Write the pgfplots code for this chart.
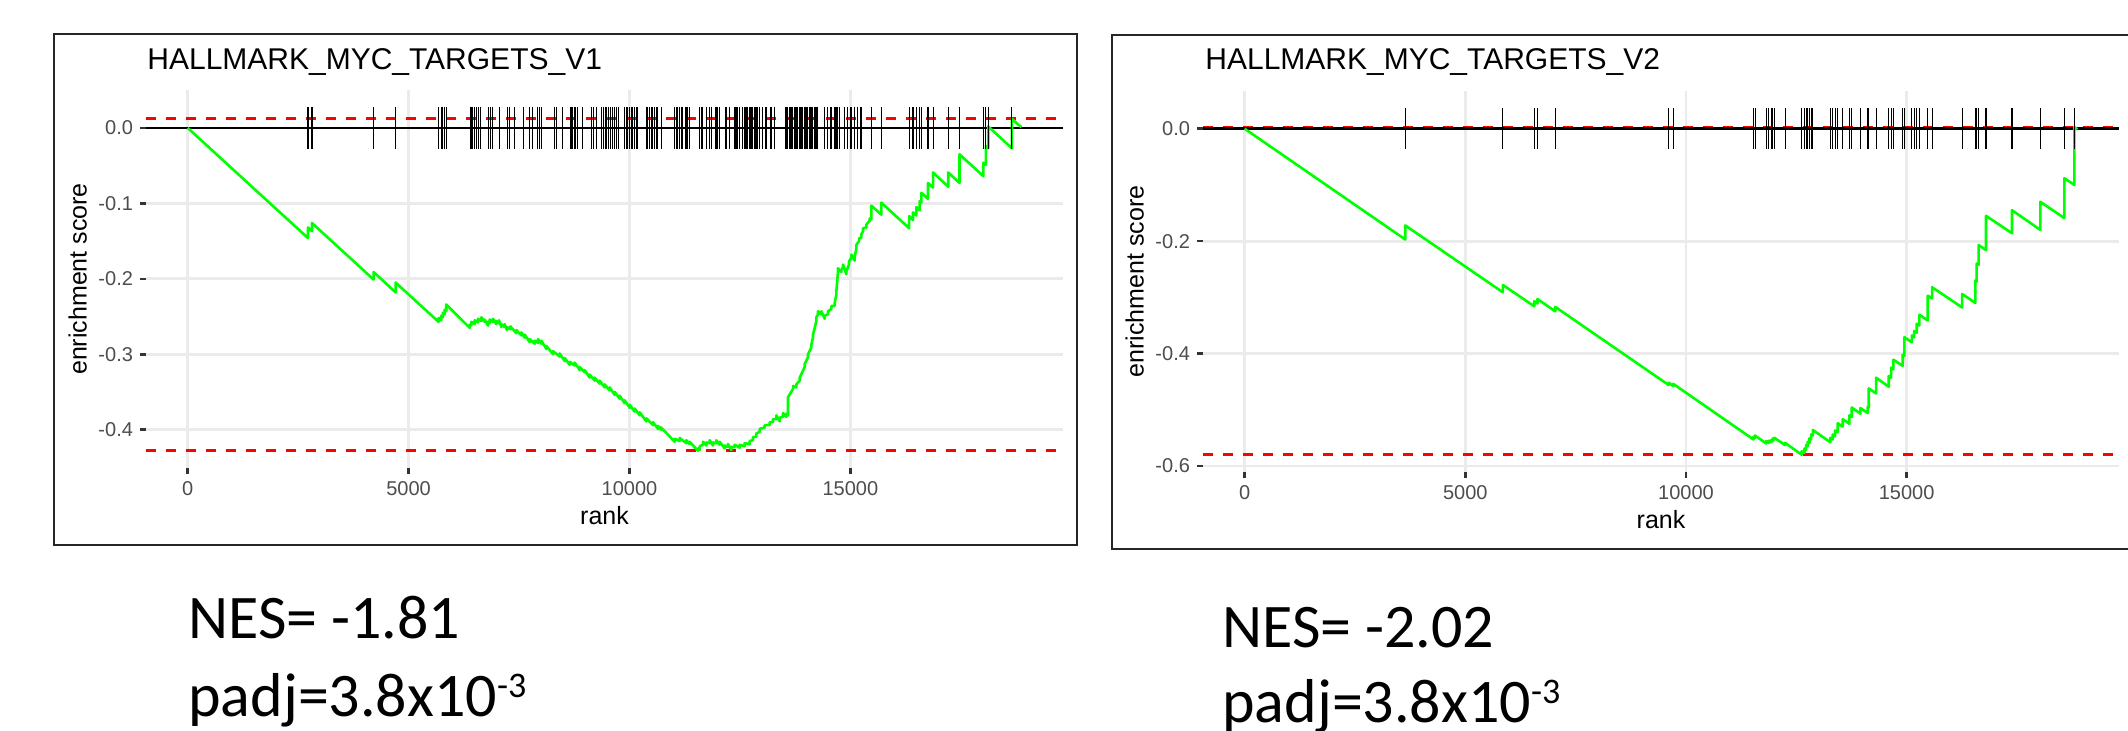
\documentclass[border=0pt]{standalone}
\usepackage{pgfplots}
\pgfplotsset{compat=1.18}
\usepackage{pgfplotstable}
\usepackage{fontspec}
\setmainfont{Liberation Sans}
\newfontfamily\calibri{Carlito}
\definecolor{gray20}{HTML}{333333}
\definecolor{gray30}{HTML}{4D4D4D}
\definecolor{gray92}{HTML}{EBEBEB}
\definecolor{ggreen}{HTML}{00FF00}
\definecolor{gred}{HTML}{FF0000}

\pgfplotstableread{
r es
0 0
2723 -0.146
2723 -0.132
2813 -0.137
2813 -0.126
4208 -0.201
4208 -0.191
4706 -0.218
4706 -0.205
5678 -0.257
5678 -0.252
5739 -0.255
5739 -0.249
5776 -0.251
5776 -0.245
5814 -0.247
5814 -0.241
5852 -0.243
5852 -0.234
6383 -0.265
6383 -0.261
6420 -0.262
6420 -0.257
6496 -0.260
6496 -0.255
6571 -0.258
6571 -0.253
6647 -0.256
6647 -0.251
6722 -0.257
6722 -0.254
6798 -0.262
6798 -0.257
6836 -0.259
6836 -0.254
6911 -0.257
6911 -0.253
6986 -0.260
6986 -0.256
7047 -0.259
7047 -0.255
7100 -0.264
7100 -0.260
7175 -0.264
7175 -0.260
7228 -0.268
7228 -0.264
7303 -0.267
7303 -0.263
7439 -0.272
7439 -0.268
7552 -0.275
7552 -0.271
7628 -0.278
7628 -0.274
7741 -0.284
7741 -0.280
7854 -0.286
7854 -0.282
7929 -0.285
7929 -0.280
8005 -0.286
8005 -0.282
8118 -0.293
8118 -0.289
8269 -0.300
8269 -0.296
8420 -0.303
8420 -0.299
8533 -0.309
8533 -0.305
8646 -0.314
8646 -0.310
8760 -0.315
8760 -0.311
8873 -0.321
8873 -0.317
8986 -0.324
8986 -0.321
9099 -0.331
9099 -0.327
9212 -0.335
9212 -0.331
9325 -0.339
9325 -0.335
9438 -0.344
9438 -0.340
9552 -0.348
9552 -0.344
9665 -0.354
9665 -0.350
9778 -0.359
9778 -0.355
9891 -0.365
9891 -0.361
10004 -0.371
10004 -0.367
10118 -0.376
10118 -0.372
10231 -0.381
10231 -0.377
10382 -0.389
10382 -0.385
10533 -0.394
10533 -0.390
10646 -0.399
10646 -0.395
10715 -0.400
10715 -0.397
11023 -0.416
11023 -0.412
11136 -0.415
11136 -0.411
11287 -0.418
11287 -0.414
11362 -0.419
11362 -0.416
11551 -0.428
11551 -0.425
11589 -0.427
11589 -0.422
11664 -0.420
11664 -0.416
11740 -0.421
11740 -0.417
11815 -0.418
11815 -0.414
11891 -0.421
11891 -0.417
11966 -0.418
11966 -0.414
12042 -0.420
12042 -0.416
12155 -0.425
12155 -0.421
12230 -0.423
12230 -0.419
12306 -0.427
12306 -0.423
12381 -0.423
12381 -0.420
12494 -0.424
12494 -0.420
12607 -0.422
12607 -0.418
12720 -0.419
12720 -0.415
12796 -0.414
12796 -0.410
12871 -0.409
12871 -0.405
12947 -0.403
12947 -0.399
13060 -0.397
13060 -0.394
13173 -0.394
13173 -0.390
13249 -0.390
13249 -0.386
13324 -0.386
13324 -0.381
13400 -0.389
13400 -0.384
13475 -0.383
13475 -0.378
13551 -0.383
13551 -0.379
13588 -0.381
13588 -0.357
13702 -0.346
13702 -0.342
13777 -0.344
13777 -0.340
13853 -0.335
13853 -0.331
13966 -0.317
13966 -0.313
14041 -0.304
14041 -0.300
14117 -0.291
14117 -0.287
14154 -0.278
14154 -0.274
14230 -0.256
14230 -0.251
14267 -0.247
14267 -0.243
14343 -0.247
14343 -0.243
14418 -0.253
14418 -0.249
14494 -0.247
14494 -0.243
14569 -0.240
14569 -0.236
14645 -0.236
14645 -0.232
14682 -0.221
14682 -0.217
14720 -0.190
14720 -0.186
14796 -0.191
14796 -0.188
14833 -0.185
14833 -0.181
14909 -0.194
14909 -0.190
14969 -0.181
14969 -0.177
15022 -0.172
15022 -0.168
15097 -0.176
15097 -0.172
15135 -0.159
15135 -0.155
15196 -0.150
15196 -0.146
15248 -0.146
15248 -0.141
15286 -0.137
15286 -0.133
15362 -0.132
15362 -0.128
15437 -0.123
15437 -0.120
15475 -0.121
15475 -0.103
15700 -0.115
15700 -0.099
16330 -0.133
16330 -0.117
16418 -0.122
16418 -0.112
16493 -0.116
16493 -0.105
16569 -0.109
16569 -0.097
16606 -0.099
16606 -0.086
16757 -0.094
16757 -0.073
16871 -0.079
16871 -0.059
17215 -0.078
17215 -0.059
17470 -0.073
17470 -0.035
18010 -0.064
18010 -0.046
18065 -0.049
18065 -0.024
18120 -0.027
18120 0.002
18655 -0.027
18655 0.012
18869 0.001
}\esone

\pgfplotstableread{
r es
0 0
3638 -0.197
3638 -0.172
5850 -0.291
5850 -0.278
6563 -0.316
6563 -0.307
6636 -0.311
6636 -0.303
7037 -0.325
7037 -0.317
9608 -0.456
9608 -0.452
9712 -0.458
9712 -0.454
11530 -0.553
11530 -0.548
11566 -0.550
11566 -0.546
11816 -0.560
11816 -0.556
11875 -0.559
11875 -0.555
11930 -0.558
11930 -0.554
11966 -0.556
11966 -0.551
12004 -0.553
12004 -0.550
12247 -0.563
12247 -0.559
12620 -0.580
12620 -0.574
12685 -0.577
12685 -0.569
12723 -0.571
12723 -0.563
12760 -0.565
12760 -0.557
12798 -0.559
12798 -0.551
12836 -0.553
12836 -0.544
12874 -0.546
12874 -0.536
13273 -0.558
13273 -0.550
13326 -0.553
13326 -0.544
13379 -0.547
13379 -0.537
13438 -0.540
13438 -0.524
13552 -0.530
13552 -0.517
13703 -0.525
13703 -0.510
13756 -0.513
13756 -0.496
13952 -0.507
13952 -0.497
14118 -0.506
14118 -0.495
14141 -0.496
14141 -0.462
14307 -0.471
14307 -0.443
14594 -0.459
14594 -0.440
14647 -0.443
14647 -0.425
14700 -0.428
14700 -0.411
14911 -0.422
14911 -0.402
14949 -0.404
14949 -0.371
15117 -0.380
15117 -0.368
15170 -0.371
15170 -0.360
15230 -0.363
15230 -0.347
15289 -0.350
15289 -0.331
15478 -0.341
15478 -0.297
15576 -0.302
15576 -0.282
16256 -0.318
16256 -0.294
16557 -0.310
16557 -0.270
16587 -0.272
16587 -0.240
16632 -0.242
16632 -0.207
16799 -0.216
16799 -0.155
17388 -0.186
17388 -0.145
18029 -0.180
18029 -0.130
18573 -0.159
18573 -0.088
18800 -0.100
18800 0.003
18869 -0.001
}\estwo

\pgfplotsset{
  gsea/.style={
    scale only axis,
    xmin=-943.5, xmax=19812.5,
    axis line style={draw=none},
    xtick={0,5000,10000,15000},
    xticklabels={0,5000,10000,15000},
    scaled x ticks=false, scaled y ticks=false,
    xtick pos=bottom, ytick pos=left,
    tick align=outside,
    major tick length=3pt,
    tick style={color=gray20, line width=1.3pt},
    xmajorgrids, ymajorgrids,
    major grid style={color=gray92, line width=1.4pt},
    ticklabel style={font=\fontsize{10}{12}\selectfont, text=gray30},
    label style={font=\fontsize{12.5}{15}\selectfont, text=black},
    xlabel={rank}, ylabel={enrichment score},
    xlabel style={at={(axis description cs:0.5,0)}, anchor=base, yshift=-28.5pt},
    ylabel style={at={(axis description cs:-0.0745,0.5)}, anchor=center},
    clip=true,
  },
  redline/.style={gred, line width=1.5pt, dash pattern=on 5pt off 5pt, forget plot},
  zeroline/.style={black, line width=1.4pt, forget plot},
  esline/.style={ggreen, line width=1.3pt, line join=round, forget plot},
  genetick/.style={draw=none, mark=none, forget plot,
    error bars/.cd, y dir=both, y fixed=#1, error mark=none,
    error bar style={draw=black, line width=0.55pt}},
}

\begin{document}
\begin{tikzpicture}
\path[use as bounding box] (0pt,0pt) rectangle (1064pt,365.5pt);
\fill[white] (0pt,0pt) rectangle (1064pt,365.5pt);

% panel frames
\draw[black!85, line width=1pt] (27pt,93pt) rectangle (538.5pt,348.5pt);
\draw[black!85, line width=1pt] (556pt,91pt) rectangle (1066pt,348.2pt);

% titles
\node[anchor=base west, inner sep=0pt, font=\fontsize{15}{18}\selectfont] at (73.5pt,330.5pt) {HALLMARK\_MYC\_TARGETS\_V1};
\node[anchor=base west, inner sep=0pt, font=\fontsize{15}{18}\selectfont] at (602.5pt,330.5pt) {HALLMARK\_MYC\_TARGETS\_V2};

\begin{axis}[gsea, at={(73pt,131.5pt)}, anchor=south west,
  width=458.5pt, height=189pt,
  ymin=-0.4508, ymax=0.0503,
  ytick={-0.4,-0.3,-0.2,-0.1,0},
  yticklabels={-0.4,-0.3,-0.2,-0.1,0.0}]
\addplot[redline] coordinates {(-943.5,0.012) (19812.5,0.012)};
\addplot[redline] coordinates {(-943.5,-0.428) (19812.5,-0.428)};
\addplot[zeroline] coordinates {(-943.5,0) (19812.5,0)};
\addplot[esline] table[x=r, y=es] {\esone};
\addplot[genetick=0.0275]
 coordinates {
(2723,0)(2813,0)(4208,0)(4706,0)(5678,0)(5739,0)(5776,0)(5814,0)(5852,0)
(6394,0)(6425,0)(6455,0)(6493,0)(6530,0)(6575,0)(6621,0)(6817,0)(6847,0)(6892,0)
(7058,0)(7239,0)(7284,0)(7397,0)(7601,0)(7737,0)(7812,0)(7925,0)(7963,0)(8001,0)
(8302,0)(8355,0)(8491,0)(8656,0)(8679,0)(8702,0)(8755,0)(8777,0)(8830,0)(8943,0)
(9132,0)(9184,0)(9260,0)(9358,0)(9410,0)(9456,0)(9486,0)(9531,0)(9561,0)(9606,0)
(9659,0)(9712,0)(9757,0)(9886,0)(9923,0)(9961,0)(9999,0)(10036,0)(10074,0)(10112,0)
(10149,0)(10187,0)(10376,0)(10413,0)(10451,0)(10489,0)(10526,0)(10564,0)(10602,0)
(10640,0)(10715,0)(11017,0)(11054,0)(11092,0)(11130,0)(11167,0)(11205,0)(11280,0)
(11318,0)(11356,0)(11582,0)(11620,0)(11657,0)(11733,0)(11808,0)(11846,0)(11959,0)
(11997,0)(12034,0)(12185,0)(12261,0)(12374,0)(12411,0)(12449,0)(12487,0)(12562,0)
(12600,0)(12638,0)(12675,0)(12713,0)(12751,0)(12788,0)(12826,0)(12864,0)(12901,0)
(12939,0)(13014,0)(13090,0)(13203,0)(13279,0)(13542,0)(13580,0)(13618,0)(13656,0)
(13693,0)(13731,0)(13769,0)(13806,0)(13844,0)(13882,0)(13920,0)(13957,0)(13995,0)
(14033,0)(14070,0)(14108,0)(14146,0)(14183,0)(14221,0)(14259,0)(14410,0)(14485,0)
(14560,0)(14636,0)(14673,0)(14711,0)(14749,0)(14862,0)(14937,0)(15013,0)(15088,0)
(15164,0)(15239,0)(15475,0)(15700,0)(16330,0)(16418,0)(16493,0)(16569,0)(16606,0)
(16757,0)(16871,0)(17215,0)(17470,0)(18010,0)(18065,0)(18120,0)(18655,0)
};
\end{axis}

\begin{axis}[gsea, at={(601.5pt,129.5pt)}, anchor=south west,
  width=458pt, height=190.5pt,
  ymin=-0.6108, ymax=0.0672,
  ytick={-0.6,-0.4,-0.2,0},
  yticklabels={-0.6,-0.4,-0.2,0.0}]
\addplot[redline] coordinates {(-943.5,0.003) (19812.5,0.003)};
\addplot[redline] coordinates {(-943.5,-0.580) (19812.5,-0.580)};
\addplot[zeroline] coordinates {(-943.5,0) (19812.5,0)};
\addplot[esline] table[x=r, y=es] {\estwo};
\addplot[genetick=0.0364]
 coordinates {
(3638,0)(5850,0)(6563,0)(6636,0)(7037,0)(9608,0)(9712,0)(11530,0)(11566,0)
(11816,0)(11875,0)(11930,0)(11966,0)(12004,0)(12247,0)(12620,0)(12685,0)(12723,0)
(12760,0)(12798,0)(12836,0)(12874,0)(13273,0)(13326,0)(13379,0)(13438,0)(13552,0)
(13703,0)(13756,0)(13952,0)(14118,0)(14141,0)(14307,0)(14594,0)(14647,0)(14700,0)
(14911,0)(14949,0)(15117,0)(15170,0)(15230,0)(15289,0)(15478,0)(15576,0)(16256,0)
(16557,0)(16587,0)(16632,0)(16799,0)(17388,0)(18029,0)(18573,0)(18800,0)
};
\end{axis}

% annotations
\node[anchor=base west, inner sep=0pt, font=\calibri\fontsize{31}{37}\selectfont] at (94pt,46pt) {NES= -1.81};
\node[anchor=base west, inner sep=0pt, font=\calibri\fontsize{31}{37}\selectfont] at (94pt,7pt) {padj=3.8x10\raisebox{9.5pt}{\fontsize{18}{18}\selectfont -3}};
\node[anchor=base west, inner sep=0pt, font=\calibri\fontsize{31}{37}\selectfont] at (611pt,41.5pt) {NES= -2.02};
\node[anchor=base west, inner sep=0pt, font=\calibri\fontsize{31}{37}\selectfont] at (611pt,4pt) {padj=3.8x10\raisebox{9.5pt}{\fontsize{18}{18}\selectfont -3}};
\end{tikzpicture}
\end{document}
